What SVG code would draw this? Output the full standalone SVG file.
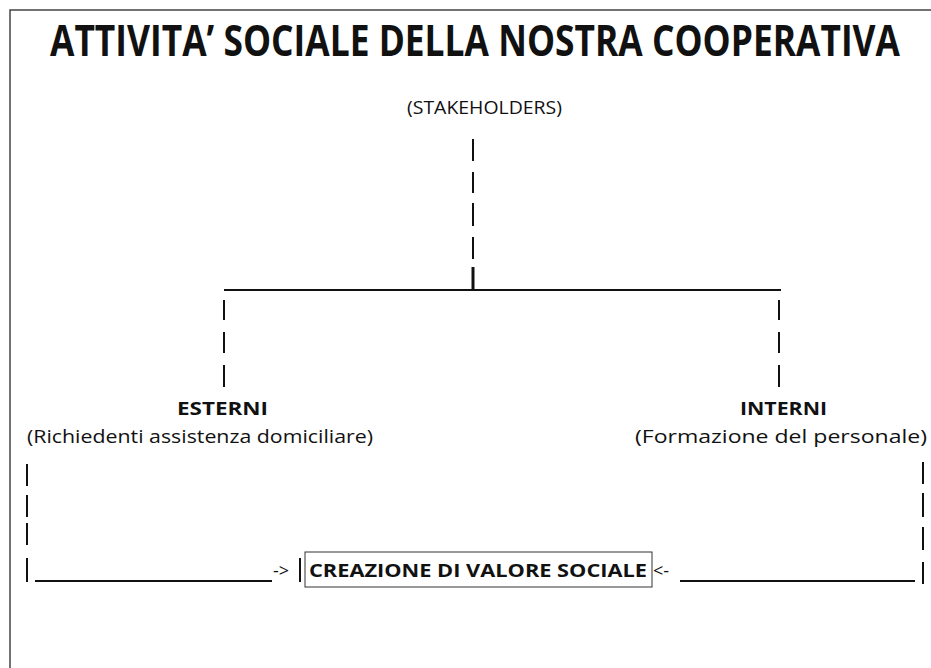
<svg xmlns="http://www.w3.org/2000/svg" width="931" height="668" viewBox="0 0 931 668">
<style>
text{font-family:"Open Sans","Liberation Sans",sans-serif;fill:#111}
.b{font-weight:bold}
.t{font-size:18px}
.c line{stroke:#111;stroke-width:2}
.f{stroke:#444;stroke-width:1.5;fill:none}
</style>
<rect width="931" height="668" fill="#fff"/>
<g id="frame">
<path class="f" d="M10 668V10H931"/>
</g>
<g id="title" transform="scale(0.8,1)">
<text class="b" x="62.5" y="56" font-size="43" textLength="1062.5" lengthAdjust="spacingAndGlyphs">ATTIVITA’ SOCIALE DELLA NOSTRA COOPERATIVA</text>
</g>
<g id="stakeholders">
<text class="t" x="407" y="114" textLength="155" lengthAdjust="spacingAndGlyphs">(STAKEHOLDERS)</text>
</g>
<g id="esterni">
<text class="t b" x="177" y="415" textLength="91" lengthAdjust="spacingAndGlyphs">ESTERNI</text>
<text class="t" x="27" y="443" textLength="346" lengthAdjust="spacingAndGlyphs">(Richiedenti assistenza domiciliare)</text>
</g>
<g id="interni">
<text class="t b" x="740" y="415" textLength="87" lengthAdjust="spacingAndGlyphs">INTERNI</text>
<text class="t" x="635" y="443" textLength="292" lengthAdjust="spacingAndGlyphs">(Formazione del personale)</text>
</g>
<g id="creazione">
<rect x="305" y="552" width="347" height="35" fill="none" stroke="#333" stroke-width="1"/>
<text class="t b" x="309" y="577" textLength="338" lengthAdjust="spacingAndGlyphs">CREAZIONE DI VALORE SOCIALE</text>
</g>
<g id="connectors" class="c">
<line x1="473" y1="139" x2="473" y2="161"/>
<line x1="473" y1="172" x2="473" y2="193"/>
<line x1="473" y1="203" x2="473" y2="226"/>
<line x1="473" y1="237" x2="473" y2="259"/>
<line x1="473" y1="267" x2="473" y2="290" style="stroke-width:3"/>
<line x1="224" y1="290" x2="781" y2="290"/>
<line x1="224" y1="300" x2="224" y2="320"/>
<line x1="224" y1="332" x2="224" y2="353"/>
<line x1="224" y1="365" x2="224" y2="387"/>
<line x1="779" y1="300" x2="779" y2="320"/>
<line x1="779" y1="332" x2="779" y2="353"/>
<line x1="779" y1="365" x2="779" y2="387"/>
<line x1="27" y1="464" x2="27" y2="486"/>
<line x1="27" y1="495" x2="27" y2="517"/>
<line x1="27" y1="523" x2="27" y2="545"/>
<line x1="27" y1="558" x2="27" y2="582"/>
<line x1="35" y1="581" x2="272" y2="581"/>
<line x1="300" y1="558" x2="300" y2="582"/>
<line x1="680" y1="581" x2="915" y2="581"/>
<line x1="923" y1="462" x2="923" y2="484"/>
<line x1="923" y1="493" x2="923" y2="517"/>
<line x1="923" y1="527" x2="923" y2="550"/>
<line x1="923" y1="562" x2="923" y2="584"/>
<text class="t" x="273" y="577">-&gt;</text>
<text class="t" x="653" y="577">&lt;-</text>
</g>
</svg>
